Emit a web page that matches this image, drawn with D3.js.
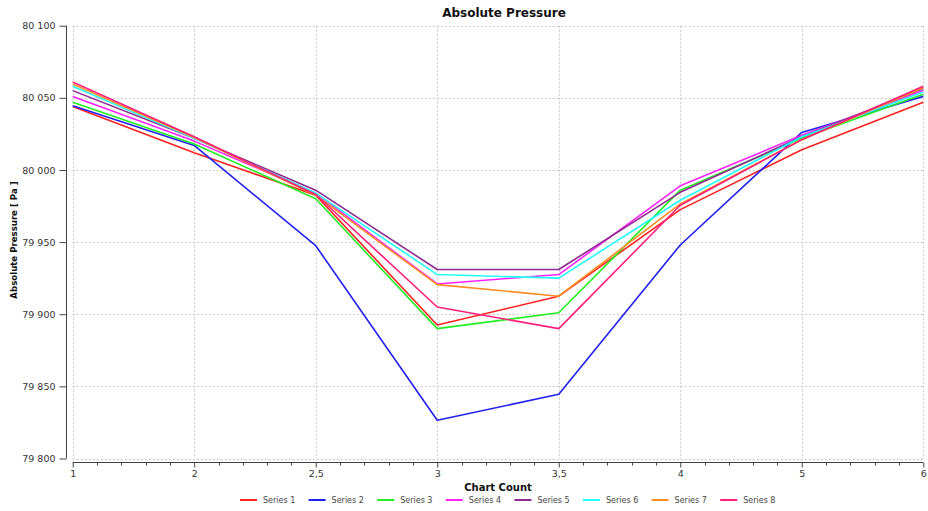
<!DOCTYPE html>
<html>
<head>
<meta charset="utf-8">
<script src="https://cdn.jsdelivr.net/npm/d3@7"></script>
<style>
  html, body { margin: 0; padding: 0; background: #fff; }
  svg { display: block; font-family: "DejaVu Sans", Verdana, sans-serif; }
</style>
</head>
<body>
<svg id="chart" width="928" height="511"></svg>
<script>
// Chart Count categories (comma is the decimal mark)
const categories = ["1", "2", "2,5", "3", "3,5", "4", "5", "6"];

// Absolute pressure per series [Pa]
const series1 = [80044, 80012, 79982.5, 79892.5, 79912.5, 79972.5, 80014, 80047];
const series2 = [80044.5, 80017, 79947.5, 79826.5, 79844.5, 79948, 80026, 80051];
const series3 = [80047, 80018, 79980, 79890, 79901, 79986, 80022, 80052.5];
const series4 = [80051, 80020, 79984, 79921, 79927.5, 79989, 80024, 80055];
const series5 = [80055, 80022, 79986, 79931, 79931, 79984.5, 80023, 80056.5];
const series6 = [80058, 80022, 79984, 79927.5, 79925, 79979, 80023, 80054];
const series7 = [80059.5, 80022.5, 79982.5, 79920.5, 79912.5, 79976.5, 80021, 80057];
const series8 = [80061, 80023, 79983, 79905, 79890, 79975.5, 80021, 80058];

const seriesNames = ["Series 1", "Series 2", "Series 3", "Series 4", "Series 5", "Series 6", "Series 7", "Series 8"];
const seriesColors = ["#ff2020", "#2020f0", "#22ee22", "#ff22ff", "#8e2a8e", "#22ffff", "#ff8c22", "#ff1f7a"];
const seriesValues = [series1, series2, series3, series4, series5, series6, series7, series8];

const yTicks = [79800, 79850, 79900, 79950, 80000, 80050, 80100];

const svg = d3.select("#chart");

const x = d3.scalePoint().domain(categories).range([72.7, 923.3]);
const y = d3.scaleLinear().domain([79800, 80100]).range([458.5, 25.7]);

const fmt = v => d3.format(",")(v).replace(/,/g, " ");

// grid
const grid = svg.append("g").attr("stroke", "#c8c8c8").attr("stroke-width", 1)
  .attr("stroke-dasharray", "2,2").attr("fill", "none");
grid.selectAll("line.h").data(yTicks).join("line")
  .attr("x1", x(categories[0])).attr("x2", x(categories[categories.length - 1]))
  .attr("y1", d => Math.round(y(d)) + 0.5).attr("y2", d => Math.round(y(d)) + 0.5);
grid.selectAll("line.v").data(categories).join("line")
  .attr("y1", y(80100)).attr("y2", y(79800))
  .attr("x1", d => Math.round(x(d)) + 0.5).attr("x2", d => Math.round(x(d)) + 0.5);

// y axis with minor ticks every 10 Pa
const yAxisX = 66.5;
const yAxisG = svg.append("g").attr("transform", `translate(${yAxisX},0)`);
yAxisG.call(d3.axisLeft(y).tickValues(d3.range(79800, 80101, 10)).tickSize(4).tickFormat(""))
  .call(g => g.select(".domain").remove());
yAxisG.call(d3.axisLeft(y).tickValues(yTicks).tickSize(7).tickPadding(4).tickFormat(fmt));
yAxisG.selectAll("line").attr("stroke", "#444");
yAxisG.selectAll(".domain").attr("stroke", "#444").attr("d", `M0,${y(80100)}V${y(79800)}`);
yAxisG.selectAll("text").attr("font-size", "9.5px").attr("fill", "#333")
  .attr("font-family", "DejaVu Sans, Verdana, sans-serif");

// x axis with 4 minor ticks per interval
const xAxisY = 462.5;
const step = x.step();
const minorX = [];
for (let i = 0; i < categories.length - 1; i++) {
  for (let k = 1; k < 5; k++) minorX.push(x(categories[i]) + step * k / 5);
}
const xAxisG = svg.append("g");
xAxisG.append("line").attr("x1", x(categories[0])).attr("x2", x(categories[categories.length - 1]))
  .attr("y1", xAxisY).attr("y2", xAxisY).attr("stroke", "#444");
xAxisG.selectAll("line.minor").data(minorX).join("line").attr("class", "minor")
  .attr("x1", d => Math.round(d) + 0.5).attr("x2", d => Math.round(d) + 0.5)
  .attr("y1", xAxisY).attr("y2", xAxisY + 3).attr("stroke", "#444");
const xMajor = svg.append("g").attr("transform", `translate(0,${xAxisY})`);
xMajor.call(d3.axisBottom(x).tickSize(5).tickPadding(3))
  .call(g => g.select(".domain").remove());
xMajor.selectAll("line").attr("stroke", "#444");
xMajor.selectAll("text").attr("font-size", "9.5px").attr("fill", "#333")
  .attr("font-family", "DejaVu Sans, Verdana, sans-serif");

// lines
const line = d3.line().x((d, i) => x(categories[i])).y(d => y(d));
svg.append("g").selectAll("path").data(seriesValues).join("path")
  .attr("d", d => line(d))
  .attr("fill", "none")
  .attr("stroke", (d, i) => seriesColors[i])
  .attr("stroke-width", 1.6)
  .attr("stroke-linejoin", "round");

// titles
svg.append("text").attr("x", 504).attr("y", 17).attr("text-anchor", "middle")
  .attr("font-weight", "bold").attr("font-size", "12px").attr("fill", "#111")
  .text("Absolute Pressure");
svg.append("text").attr("x", 498).attr("y", 491).attr("text-anchor", "middle")
  .attr("font-weight", "bold").attr("font-size", "10px").attr("fill", "#111")
  .text("Chart Count");
svg.append("text").attr("transform", "translate(17,240) rotate(-90)")
  .attr("text-anchor", "middle").attr("font-weight", "bold").attr("font-size", "8.6px")
  .attr("fill", "#111").text("Absolute Pressure [ Pa ]");

// legend
const legendX0 = 240, legendDX = 68.6, legendY = 500;
const lg = svg.append("g").selectAll("g").data(seriesNames).join("g")
  .attr("transform", (d, i) => `translate(${legendX0 + i * legendDX},${legendY})`);
lg.append("line").attr("x1", 0).attr("x2", 17).attr("y1", 0).attr("y2", 0)
  .attr("stroke", (d, i) => seriesColors[i]).attr("stroke-width", 2);
lg.append("text").attr("x", 23).attr("y", 3).attr("font-size", "8px").attr("fill", "#444")
  .text(d => d);
</script>
</body>
</html>
